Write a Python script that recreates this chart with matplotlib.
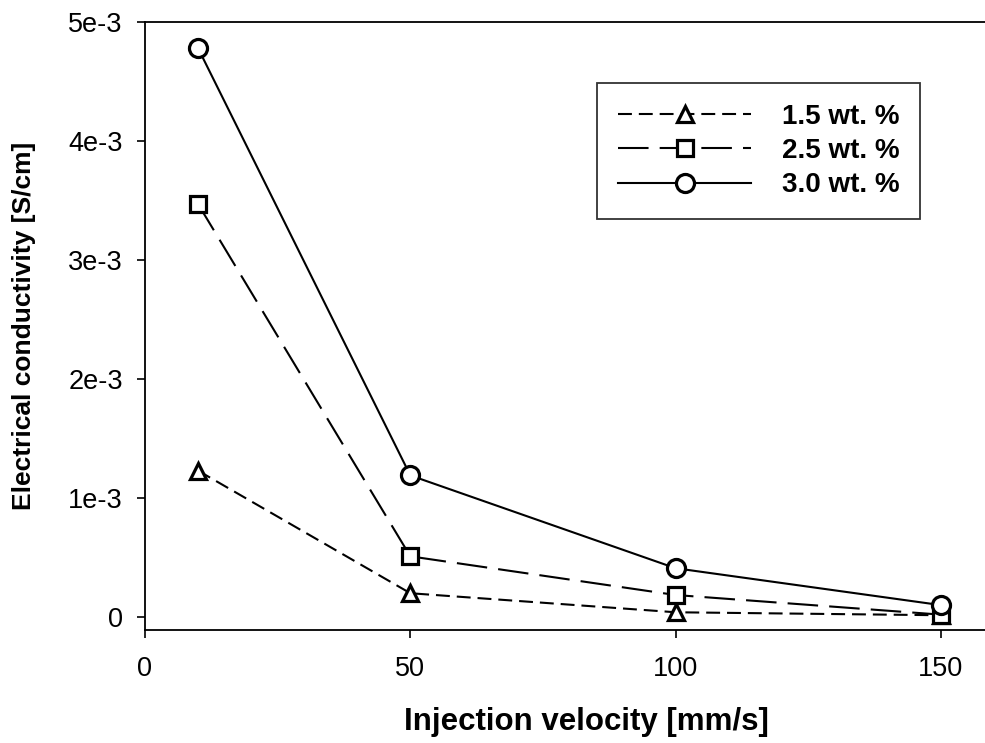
import matplotlib
matplotlib.use("Agg")
import matplotlib.pyplot as plt

plt.rcParams['font.family'] = ['Liberation Sans', 'DejaVu Sans']
plt.rcParams['lines.scale_dashes'] = False

velocity = [10, 50, 100, 150]
cond_15 = [1.23e-3, 0.20e-3, 0.04e-3, 0.015e-3]
cond_25 = [3.47e-3, 0.51e-3, 0.185e-3, 0.02e-3]
cond_30 = [4.78e-3, 1.19e-3, 0.41e-3, 0.10e-3]
labels = ["1.5 wt. %", "2.5 wt. %", "3.0 wt. %"]
yticks = [0, 1e-3, 2e-3, 3e-3, 4e-3, 5e-3]
ytick_labels = ["0", "1e-3", "2e-3", "3e-3", "4e-3", "5e-3"]
xticks = [0, 50, 100, 150]
xtick_labels = ["0", "50", "100", "150"]

fig = plt.figure(figsize=(9.85, 7.43), dpi=100)
ax = fig.add_axes([145/985, (743-630)/743, 1 - 145/985, (630-22)/743])

common = dict(color='black', lw=1.5, markerfacecolor='white',
              markeredgecolor='black', markeredgewidth=2.3)
ax.plot(velocity, cond_15, linestyle=(0, (10, 5)), marker='^', markersize=12,
        label=labels[0], **common)
ax.plot(velocity, cond_25, linestyle=(0, (22, 8)), marker='s', markersize=11,
        label=labels[1], **common)
ax.plot(velocity, cond_30, linestyle='-', marker='o', markersize=13,
        label=labels[2], **common)

ax.set_xlim(0, 158.3)
ax.set_ylim(-0.109e-3, 5e-3)
ax.set_xticks(xticks)
ax.set_xticklabels(xtick_labels)
ax.set_yticks(yticks)
ax.set_yticklabels(ytick_labels)
ax.tick_params(axis='both', direction='out', length=6, width=1.2,
               labelsize=19.5, color='black')
ax.tick_params(axis='x', pad=13)
ax.tick_params(axis='y', pad=10)

for s in ['left', 'top', 'bottom']:
    ax.spines[s].set_linewidth(1.3)
ax.spines['right'].set_visible(False)

ax.set_xlabel("Injection velocity [mm/s]", fontsize=22.5, fontweight='bold')
ax.set_ylabel("Electrical conductivity [S/cm]", fontsize=19, fontweight='bold')
ax.xaxis.set_label_coords((586-145)/840, (630-722)/608)
ax.xaxis.label.set_verticalalignment('center')
ax.yaxis.set_label_coords((24-145)/840, 0.5)
ax.yaxis.label.set_verticalalignment('center')

leg = ax.legend(loc='upper left', bbox_to_anchor=((597-145)/840, (630-83)/608),
                borderaxespad=0, numpoints=1, handlelength=4.8,
                handletextpad=1.1, borderpad=0.75, labelspacing=0.3,
                fancybox=False, frameon=True,
                prop={'size': 20, 'weight': 'bold'})
leg.get_frame().set_edgecolor('black')
leg.get_frame().set_linewidth(1.3)

fig.savefig("out.png", dpi=100)
